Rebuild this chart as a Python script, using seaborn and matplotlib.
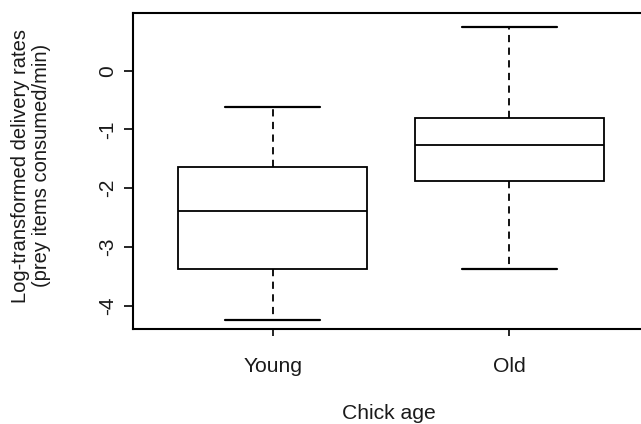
import pandas as pd
import numpy as np
import matplotlib
matplotlib.use("Agg")
import matplotlib.pyplot as plt
import seaborn as sns

# ── values (min, Q1, median, Q3, max per group) ─────────────────────────────
groups = ["Young", "Old"]
young  = [-4.24, -3.37, -2.38, -1.64, -0.61]
old    = [-3.37, -1.87, -1.27, -0.81, 0.75]
yticks = [-4, -3, -2, -1, 0]

df = pd.DataFrame({
    "age":  ["Young"] * len(young) + ["Old"] * len(old),
    "rate": young + old,
})

sns.set_theme(style="white")
plt.rcParams["font.family"] = ["Liberation Sans", "DejaVu Sans"]

fig = plt.figure(figsize=(6.41, 4.24), dpi=100)
ax = fig.add_axes([132.7/641, 1 - 329.3/424, (646 - 132.7)/641, (329.3 - 12.7)/424])

lw = 1.3
sns.boxplot(data=df, x="age", y="rate", order=groups, ax=ax,
            width=0.8, whis=(0, 100), fill=True, color="white", linecolor="black",
            linewidth=lw,
            boxprops=dict(facecolor="white", edgecolor="black", linewidth=lw),
            medianprops=dict(color="black", linewidth=lw),
            whiskerprops=dict(color="black", linewidth=lw, linestyle=(0, (4, 3))),
            capprops=dict(color="black", linewidth=lw + 0.3),
            showfliers=False)

ax.set_xlim(-0.592, 1.578)
ax.set_ylim(-4.40, 0.986)
ax.set_yticks(yticks)
ax.set_yticklabels([str(t) for t in yticks], rotation=90, va="center")

for side in ["left", "bottom", "top"]:
    ax.spines[side].set_visible(True)
    ax.spines[side].set_color("black")
    ax.spines[side].set_linewidth(1.5)
ax.spines["right"].set_visible(False)

txt = "#1a1a1a"
ax.tick_params(axis="y", length=6.5, width=1.2, color="black", pad=5,
               labelsize=15, labelcolor=txt, left=True)
ax.tick_params(axis="x", length=5, width=1.2, color="black", pad=15,
               labelsize=15.2, labelcolor=txt, bottom=True)

ax.set_xlabel("Chick age", fontsize=15.2, color=txt, labelpad=20)
ax.set_ylabel("Log-transformed delivery rates\n(prey items consumed/min)",
              fontsize=14.5, color=txt, linespacing=1.1)
ax.yaxis.set_label_coords(-0.16, 0.516)

fig.savefig("out.png", dpi=100)
